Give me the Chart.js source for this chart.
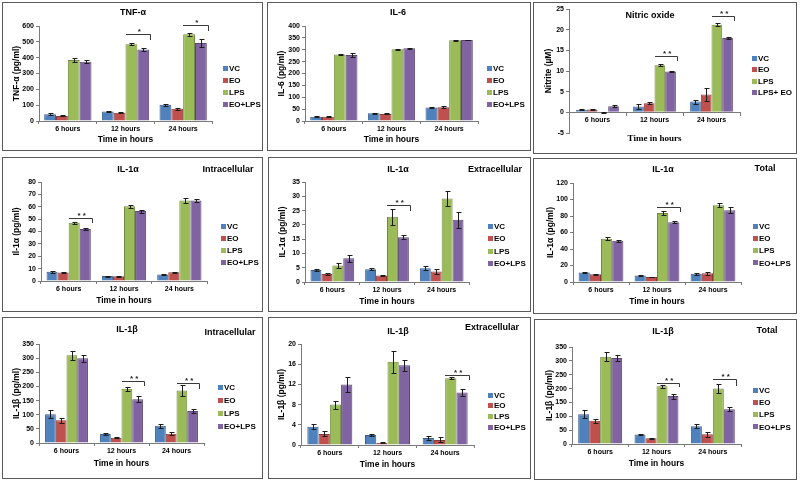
<!DOCTYPE html>
<html>
<head>
<meta charset="utf-8">
<title>Cytokine panels</title>
<script src="https://cdn.jsdelivr.net/npm/chart.js@4.4.1/dist/chart.umd.min.js"></script>
<style>
  html, body { margin: 0; padding: 0; background: #fff; }
  #fig { position: relative; width: 800px; height: 482px; overflow: hidden; background: #fff; }
  #fig canvas { position: absolute; }
  .frame { position: absolute; box-sizing: border-box; border: 1px solid #5a5a5a; pointer-events: none; }
</style>
</head>
<body>
<div id="fig"></div>
<script>
// ---- data (rows = series VC, EO, LPS, EO+LPS; cols = 6/12/24 h) ----
const hours = ["6 hours", "12 hours", "24 hours"];
const groups = ["VC", "EO", "LPS", "EO+LPS"];
const groupsNO = ["VC", "EO", "LPS", "LPS+ EO"];

// TNF-α (pg/ml)
const tnfMean = [[43, 60, 102], [32, 52, 78], [385, 485, 548], [375, 452, 492]];
const tnfErr = [[5, 4, 7], [3, 3, 6], [10, 7, 9], [8, 10, 25]];
const tnfSig = [[1, "*", 549, 512], [2, "*", 606, 570]]; // [hour index, mark, bar top, right tick end]
const tnfTicks = [0, 600, 100];

// IL-6 (pg/ml)
const il6Mean = [[18, 33, 57], [18, 30, 58], [280, 302, 340], [278, 306, 341]];
const il6Err = [[3, 2, 3], [2, 2, 5], [1, 2, 3], [8, 3, 2]];
const il6Sig = [];
const il6Ticks = [0, 400, 50];

// Nitric oxide, nitrite (µM)
const noMean = [[0.6, 1.4, 2.6], [0.7, 2.2, 4.3], [0, 11.4, 21.2], [1.5, 9.9, 18.0]];
const noErr = [[0.1, 0.7, 0.5], [0.1, 0.3, 1.5], [0.15, 0.2, 0.3], [0.3, 0.2, 0.3]];
const noSig = [[1, "* *", 13.7, 12.3], [2, "* *", 23.2, 22.0]];
const noTicks = [-5, 25, 5];

// IL-1α intracellular
const a1InMean = [[7.5, 4, 5.2], [6.8, 3.8, 7], [47, 60.5, 65], [42, 56.5, 65]];
const a1InErr = [[0.8, 0.4, 0.5], [0.4, 0.2, 0.5], [1, 1.2, 2], [1, 1.2, 1.5]];
const a1InSig = [[0, "* *", 50.8, 46.8]];
const a1InTicks = [0, 80, 10];

// IL-1α extracellular
const a1ExMean = [[4.2, 4.5, 4.8], [2.8, 2.3, 3.7], [5.8, 22.8, 29.2], [8.3, 15.7, 21.8]];
const a1ExErr = [[0.5, 0.4, 0.7], [0.4, 0.2, 0.8], [1, 2.8, 2.5], [1.3, 0.8, 2.8]];
const a1ExSig = [[1, "* *", 26.8, 24.9]];
const a1ExTicks = [0, 35, 5];

// IL-1α total
const a1TotMean = [[11.5, 8, 10], [9.5, 6, 10.5], [52.5, 83.5, 93], [50, 72.5, 87]];
const a1TotErr = [[1, 0.5, 1], [0.5, 0.3, 1.5], [1.5, 2.5, 2.5], [1.5, 1.5, 3.5]];
const a1TotSig = [[1, "* *", 90.7, 84.6]];
const a1TotTicks = [0, 120, 20];

// IL-1β intracellular
const b1InMean = [[102, 32, 61], [80, 19, 33], [310, 192, 186], [300, 155, 113]];
const b1InErr = [[15, 2, 7], [8, 2, 6], [15, 7, 20], [12, 10, 8]];
const b1InSig = [[1, "* *", 218, 200], [2, "* *", 212, 192]];
const b1InTicks = [0, 350, 50];

// IL-1β extracellular
const b1ExMean = [[3.6, 2.0, 1.4], [2.2, 0.4, 1.0], [8.0, 16.5, 13.2], [12.0, 15.8, 10.4]];
const b1ExErr = [[0.5, 0.2, 0.4], [0.5, 0.1, 0.5], [0.8, 2.2, 0.2], [1.5, 1.1, 0.6]];
const b1ExSig = [[2, "* *", 13.9, 12.9]];
const b1ExTicks = [0, 20, 2];

// IL-1β total
const b1TotMean = [[107, 34, 64], [84, 21, 35], [315, 208, 200], [310, 173, 125]];
const b1TotErr = [[14, 2, 7], [8, 2, 8], [16, 6, 17], [12, 9, 7]];
const b1TotSig = [[1, "* *", 220, 204], [2, "* *", 233, 210]];
const b1TotTicks = [0, 350, 50];

// ---- styling ----
const FILLS = ["#4f81bd", "#c0504d", "#9bbb59", "#8064a2"];
const EDGES = ["#385d8a", "#8c3836", "#71893f", "#5c4776"];
const SANS = "'Liberation Sans', Arial, sans-serif";
const SERIF = "'Liberation Serif', 'Times New Roman', serif";
const AXIS_COLOR = "#7a7a7a";
const TITLE_SIZE = 8.5;
const TICK_SIZE = 7;

// Page-pixel layout of each panel: frame box, plot area, label anchors.
const PANELS = [
  { box: [2, 2, 263, 151], plot: [39, 26, 212, 121], yTitleX: 17, xTitleY: 140,
    title: ["TNF-α", 133, 13], yLabel: "TNF-α (pg/ml)", legend: [223, 68, 12],
    series: groups, mean: tnfMean, err: tnfErr, sig: tnfSig, ticks: tnfTicks, cat: 0.82 },
  { box: [267, 2, 531, 151], plot: [305, 26, 478, 121], yTitleX: 282, xTitleY: 140,
    title: ["IL-6", 398, 13], yLabel: "IL-6 (pg/ml)", legend: [487, 68, 12],
    series: groups, mean: il6Mean, err: il6Err, sig: il6Sig, ticks: il6Ticks, cat: 0.82 },
  { box: [533, 2, 797, 154], plot: [569, 9, 740, 133], yTitleX: 549, xTitleY: 139, zeroAxis: true,
    title: ["Nitric oxide", 650, 16], yLabel: "Nitrite (µM)", legend: [752, 58, 11.5],
    series: groupsNO, mean: noMean, err: noErr, sig: noSig, ticks: noTicks, cat: 0.75 },
  { box: [2, 157, 263, 312], plot: [41, 182, 207, 281], yTitleX: 17, xTitleY: 301,
    title: ["IL-1α", 128, 170], sub: ["Intracellular", 228, 170], yLabel: "Il-1α (pg/ml)", legend: [221, 226, 12],
    series: groups, mean: a1InMean, err: a1InErr, sig: a1InSig, ticks: a1InTicks, cat: 0.8 },
  { box: [268, 157, 531, 312], plot: [305, 182, 469, 282], yTitleX: 283, xTitleY: 302,
    title: ["IL-1α", 398, 170], sub: ["Extracellular", 495, 170], yLabel: "IL-1α (pg/ml)", legend: [488, 226, 12.5],
    series: groups, mean: a1ExMean, err: a1ExErr, sig: a1ExSig, ticks: a1ExTicks, cat: 0.8 },
  { box: [533, 158, 797, 314], plot: [573, 183, 741, 282], yTitleX: 551, xTitleY: 302,
    title: ["IL-1α", 663, 170], sub: ["Total", 765, 169], yLabel: "IL-1α (pg/ml)", legend: [753, 226, 12.3],
    series: groups, mean: a1TotMean, err: a1TotErr, sig: a1TotSig, ticks: a1TotTicks, cat: 0.8 },
  { box: [2, 317, 263, 479], plot: [39, 344, 204, 443], yTitleX: 17, xTitleY: 464,
    title: ["IL-1β", 127, 330], sub: ["Intracellular", 230, 333], yLabel: "IL-1β (pg/ml)", legend: [218, 387, 13],
    series: groups, mean: b1InMean, err: b1InErr, sig: b1InSig, ticks: b1InTicks, cat: 0.78 },
  { box: [268, 317, 531, 479], plot: [301, 344, 474, 445], yTitleX: 282, xTitleY: 465,
    title: ["IL-1β", 398, 332], sub: ["Extracellular", 492, 328], yLabel: "IL-1β (pg/ml)", legend: [488, 395, 10.7],
    series: groups, mean: b1ExMean, err: b1ExErr, sig: b1ExSig, ticks: b1ExTicks, cat: 0.78 },
  { box: [534, 319, 797, 480], plot: [572, 347, 741, 444], yTitleX: 550, xTitleY: 464,
    title: ["IL-1β", 663, 332], sub: ["Total", 767, 331], yLabel: "IL-1β (pg/ml)", legend: [753, 390, 12.3],
    series: groups, mean: b1TotMean, err: b1TotErr, sig: b1TotSig, ticks: b1TotTicks, cat: 0.78 },
];

// Error bars, significance brackets, titles and legend for one panel.
const panelExtras = {
  id: "panelExtras",
  afterDatasetsDraw(chart, args, opts) {
    const p = opts.panel;
    const { ctx } = chart;
    const y = chart.scales.y;
    ctx.save();
    ctx.strokeStyle = "#1c1c1c";
    ctx.lineWidth = 1;
    chart.data.datasets.forEach((ds, di) => {
      chart.getDatasetMeta(di).data.forEach((bar, i) => {
        const e = ds.errors[i];
        if (!e) return;
        const cx = Math.round(bar.x) + 0.5;
        const yHi = Math.round(y.getPixelForValue(ds.data[i] + e)) + 0.5;
        const yLo = Math.round(y.getPixelForValue(ds.data[i] - e)) + 0.5;
        ctx.beginPath();
        ctx.moveTo(cx, yHi); ctx.lineTo(cx, yLo);
        ctx.moveTo(cx - 2, yHi); ctx.lineTo(cx + 3, yHi);
        ctx.moveTo(cx - 2, yLo); ctx.lineTo(cx + 3, yLo);
        ctx.stroke();
      });
    });

    // significance brackets: LPS vs EO+LPS
    ctx.strokeStyle = "#3a3a3a";
    ctx.fillStyle = "#222";
    ctx.font = `bold 8px ${SANS}`;
    ctx.textAlign = "center";
    ctx.textBaseline = "bottom";
    p.sig.forEach(([cat, mark, top, tickEnd]) => {
      const lps = chart.getDatasetMeta(2).data[cat];
      const mix = chart.getDatasetMeta(3).data[cat];
      const xl = Math.round(lps.x - lps.width / 2);
      const xr = Math.round(mix.x + mix.width / 2) + 1.5;
      const yt = Math.round(y.getPixelForValue(top)) + 0.5;
      const yb = Math.round(y.getPixelForValue(tickEnd));
      ctx.beginPath();
      ctx.moveTo(xl, yt); ctx.lineTo(xr, yt); ctx.lineTo(xr, yb);
      ctx.stroke();
      ctx.fillText(mark, (xl + xr) / 2 + 1, yt + 1);
    });
    ctx.restore();
  },
  afterDraw(chart, args, opts) {
    const p = opts.panel;
    const { ctx } = chart;
    const ox = p.box[0], oy = p.box[1];
    ctx.save();
    ctx.fillStyle = "#000";
    ctx.textBaseline = "middle";
    ctx.textAlign = "center";
    ctx.font = `bold ${TITLE_SIZE + 0.5}px ${SANS}`;
    ctx.fillText(p.title[0], p.title[1] - ox, p.title[2] - oy);
    if (p.sub) ctx.fillText(p.sub[0], p.sub[1] - ox, p.sub[2] - oy);
    if (p.zeroAxis) {
      ctx.font = `bold ${TITLE_SIZE + 0.5}px ${SERIF}`;
      ctx.fillText("Time in hours", (p.plot[0] + p.plot[2]) / 2 - ox, p.xTitleY - oy);
    }
    // legend
    const [lx, ly, step] = p.legend;
    ctx.textAlign = "left";
    ctx.font = `bold 8px ${SANS}`;
    p.series.forEach((name, i) => {
      const cy = ly + i * step - oy;
      ctx.fillStyle = FILLS[i];
      ctx.fillRect(lx - ox, Math.round(cy - 2.5), 5, 5);
      ctx.fillStyle = "#000";
      ctx.fillText(name, lx - ox + 6, cy + 0.5);
    });
    ctx.restore();
  },
};

function buildPanel(p) {
  const fig = document.getElementById("fig");
  const [bl, bt, br, bb] = p.box;
  const [pl, pt, pr, pb] = p.plot;
  const W = br - bl, H = bb - bt;

  const canvas = document.createElement("canvas");
  canvas.width = W; canvas.height = H;
  canvas.style.left = bl + "px"; canvas.style.top = bt + "px";
  canvas.style.width = W + "px"; canvas.style.height = H + "px";
  fig.appendChild(canvas);
  const frame = document.createElement("div");
  frame.className = "frame";
  Object.assign(frame.style, { left: bl + "px", top: bt + "px", width: W + "px", height: H + "px" });
  fig.appendChild(frame);

  const lh = TITLE_SIZE * 1.2;
  const padLeft = Math.max(0, Math.round(p.yTitleX - lh / 2 - bl));
  const yWidth = pl - bl - padLeft;
  let padBottom = bb - pb, xHeight = 0;
  if (!p.zeroAxis) {
    const xScaleBottom = Math.round(p.xTitleY + lh / 2);
    padBottom = bb - xScaleBottom;
    xHeight = xScaleBottom - pb;
  }

  const [yMin, yMax, yStep] = p.ticks;
  new Chart(canvas, {
    type: "bar",
    data: {
      labels: hours,
      datasets: p.series.map((name, i) => ({
        label: name,
        data: p.mean[i],
        errors: p.err[i],
        backgroundColor: FILLS[i],
        borderColor: EDGES[i],
        borderWidth: 1,
        categoryPercentage: p.cat,
        barPercentage: 1,
      })),
    },
    options: {
      responsive: false,
      animation: false,
      devicePixelRatio: 1,
      layout: { padding: { left: padLeft, top: pt - bt, right: br - pr, bottom: padBottom } },
      plugins: {
        legend: { display: false },
        tooltip: { enabled: false },
        panelExtras: { panel: p },
      },
      scales: {
        x: {
          position: p.zeroAxis ? { y: 0 } : "bottom",
          afterFit: (s) => { if (!p.zeroAxis) s.height = xHeight; },
          grid: { offset: true, drawOnChartArea: false, tickLength: 3, color: AXIS_COLOR },
          border: { color: AXIS_COLOR },
          ticks: { color: "#000", padding: 1, font: { family: SANS, size: TICK_SIZE, weight: "bold" } },
          title: {
            display: !p.zeroAxis, text: "Time in hours", color: "#000", padding: 0,
            font: { family: SANS, size: TITLE_SIZE, weight: "bold" },
          },
        },
        y: {
          min: yMin, max: yMax,
          afterFit: (s) => { s.width = yWidth; },
          grid: { drawOnChartArea: false, tickLength: 3, color: AXIS_COLOR },
          border: { color: AXIS_COLOR },
          ticks: { stepSize: yStep, color: "#000", padding: 2, font: { family: SANS, size: TICK_SIZE, weight: "bold" } },
          title: {
            display: true, text: p.yLabel, color: "#000", padding: 0,
            font: { family: SANS, size: TITLE_SIZE, weight: "bold" },
          },
        },
      },
    },
    plugins: [panelExtras],
  });
}

PANELS.forEach(buildPanel);
</script>
</body>
</html>
